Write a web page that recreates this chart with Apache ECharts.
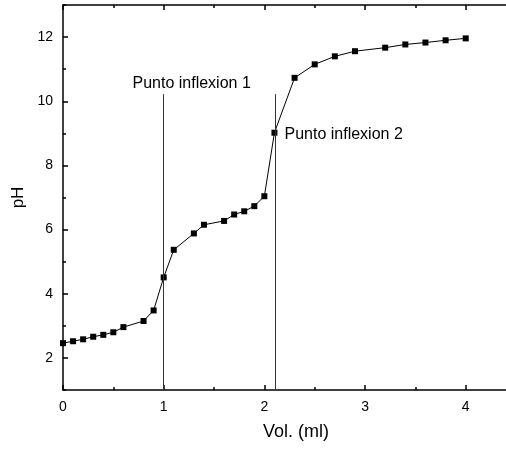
<!DOCTYPE html>
<html>
<head>
<meta charset="utf-8">
<script src="https://cdn.jsdelivr.net/npm/echarts@6/dist/echarts.min.js"></script>
<style>
  html, body { margin: 0; padding: 0; background: #fff; }
  #chart { width: 506px; height: 450px; }
</style>
</head>
<body>
<div id="chart"></div>
<script>
// volumen añadido (ml) y pH medido
var vol = [0, 0.1, 0.2, 0.3, 0.4, 0.5, 0.6, 0.8, 0.9, 1.0, 1.1, 1.3, 1.4, 1.6, 1.7, 1.8, 1.9, 2.0, 2.1, 2.3, 2.5, 2.7, 2.9, 3.2, 3.4, 3.6, 3.8, 4.0];
var ph  = [2.46, 2.52, 2.58, 2.66, 2.72, 2.8, 2.96, 3.15, 3.48, 4.51, 5.37, 5.88, 6.15, 6.27, 6.47, 6.57, 6.73, 7.04, 9.02, 10.73, 11.15, 11.4, 11.56, 11.67, 11.77, 11.83, 11.9, 11.96];
// puntos de inflexion
var inflexX = [1.0, 2.106];
var inflexTop = [10.22, 10.22];
var inflexNames = ['Punto inflexion 1', 'Punto inflexion 2'];
var inflexLabelPos = [[0.69, 10.56], [2.2, 8.95]];
// ticks
var xMajor = [0, 1, 2, 3, 4];
var xMinor = [0.5, 1.5, 2.5, 3.5];
var yMajor = [2, 4, 6, 8, 10, 12];
var yMinor = [1, 3, 5, 7, 9, 11, 13];

var points = vol.map(function (v, i) { return [v, ph[i]]; });

var font = 'Liberation Sans, Arial, sans-serif';
var black = { color: '#000', width: 1.5 };

// eje sin etiquetas, solo ticks
function tickAxis(pos, vals, len, min, max, line) {
    return {
        type: 'value', position: pos, min: min, max: max,
        axisLine: { show: line, lineStyle: black },
        axisTick: { inside: true, length: len, customValues: vals, lineStyle: black },
        axisLabel: { show: false },
        splitLine: { show: false }
    };
}

var chart = echarts.init(document.getElementById('chart'));
chart.setOption({
    animation: false,
    grid: { left: 63, top: 5, right: 0, bottom: 60 },
    xAxis: [{
        type: 'value', min: 0, max: 4.4,
        name: 'Vol. (ml)', nameLocation: 'middle', nameGap: 33,
        nameTextStyle: { fontFamily: font, fontSize: 18, color: '#000', padding: [0, 0, 0, 23] },
        axisLine: { lineStyle: black },
        axisTick: { inside: true, length: 5, customValues: xMajor, lineStyle: black },
        axisLabel: { fontFamily: font, fontSize: 14, color: '#000', margin: 10, customValues: xMajor },
        splitLine: { show: false }
    },
        tickAxis('bottom', xMinor, 3, 0, 4.4, false),
        tickAxis('top', xMajor, 5, 0, 4.4, true),
        tickAxis('top', xMinor, 3, 0, 4.4, false)
    ],
    yAxis: [{
        type: 'value', min: 1, max: 13,
        name: 'pH', nameLocation: 'middle', nameGap: 32, nameRotate: 90,
        nameTextStyle: { fontFamily: font, fontSize: 17, color: '#000' },
        axisLine: { lineStyle: black },
        axisTick: { inside: true, length: 5, customValues: yMajor, lineStyle: black },
        axisLabel: { fontFamily: font, fontSize: 14, color: '#000', margin: 10, customValues: yMajor },
        splitLine: { show: false }
    },
        tickAxis('left', yMinor, 3, 1, 13, false)
    ],
    series: [{
        type: 'line',
        xAxisIndex: 0, yAxisIndex: 0,
        data: points,
        symbol: 'rect',
        symbolSize: 6,
        itemStyle: { color: '#000' },
        lineStyle: { color: '#000', width: 1 },
        markLine: {
            silent: true, symbol: 'none',
            label: { show: false },
            lineStyle: { color: '#333', width: 1, type: 'solid' },
            data: inflexX.map(function (x, i) {
                return [{ coord: [x, 1] }, { coord: [x, inflexTop[i]] }];
            })
        },
        markPoint: {
            silent: true, symbolSize: 0,
            label: { show: true, position: 'right', distance: 0, fontFamily: font, fontSize: 16, color: '#000',
                formatter: function (p) { return p.name; } },
            data: inflexLabelPos.map(function (c, i) { return { name: inflexNames[i], coord: c }; })
        }
    }]
});
</script>
</body>
</html>
